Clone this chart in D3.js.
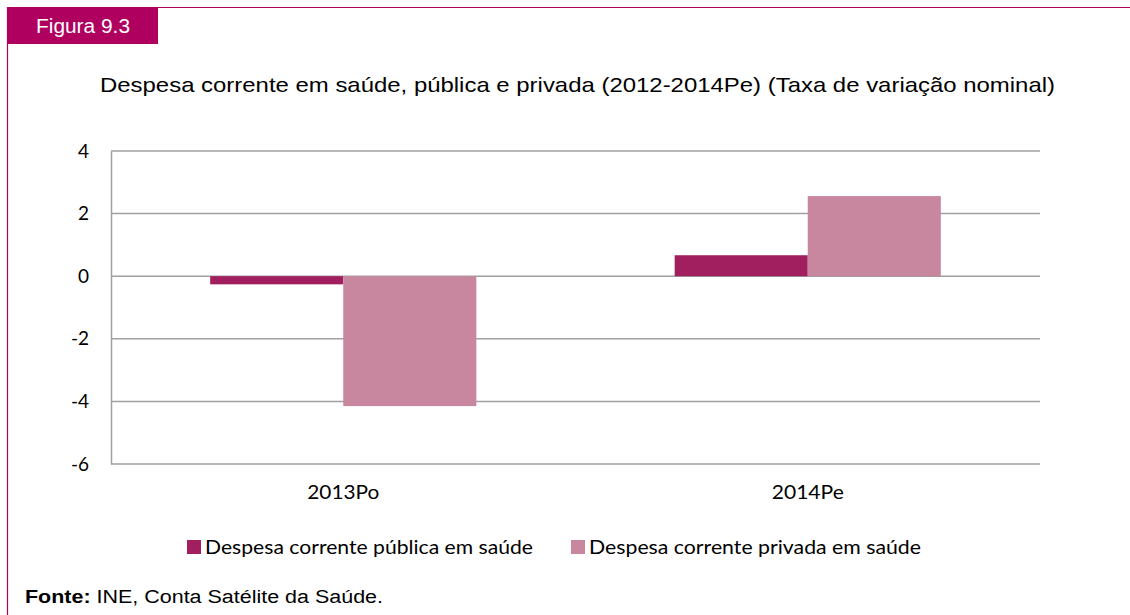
<!DOCTYPE html>
<html>
<head>
<meta charset="utf-8">
<script src="https://cdn.jsdelivr.net/npm/d3@7"></script>
<style>
  body { margin: 0; background: #fff; }
  svg { display: block; }
</style>
</head>
<body>
<div id="chart-area"></div>
<script>
// data
var categories = ["2013Po", "2014Pe"];
var seriesNames = ["Despesa corrente pública em saúde", "Despesa corrente privada em saúde"];
var publica = [-0.26, 0.67];
var privada = [-4.15, 2.56];
var yTicks = [-6, -4, -2, 0, 2, 4];

var colors = ["#A21F5F", "#C8879F"];
var frameColor = "#B0005F";
var arial = "'Liberation Sans', Arial, sans-serif";
var calibri = "Lato, 'Open Sans', sans-serif";

var W = 1130, H = 615;
var margin = { left: 111, right: 90, top: 151, bottom: 151 };
var width = W - margin.left - margin.right;
var height = H - margin.top - margin.bottom;

var svg = d3.select("#chart-area")
    .append("svg")
    .attr("width", W)
    .attr("height", H);

// frame + badge
svg.append("line")
    .attr("x1", 7).attr("x2", W).attr("y1", 7.5).attr("y2", 7.5)
    .attr("stroke", frameColor).attr("stroke-width", 1.2);
svg.append("line")
    .attr("x1", 7.5).attr("x2", 7.5).attr("y1", 7).attr("y2", H)
    .attr("stroke", frameColor).attr("stroke-width", 1.2);
svg.append("rect")
    .attr("x", 7).attr("y", 7).attr("width", 151).attr("height", 37)
    .attr("fill", frameColor);
svg.append("text")
    .attr("x", 36).attr("y", 33)
    .attr("fill", "#fff")
    .attr("font-family", arial)
    .attr("font-size", "20px")
    .attr("textLength", 94)
    .attr("lengthAdjust", "spacingAndGlyphs")
    .text("Figura 9.3");

// title
svg.append("text")
    .attr("x", 100).attr("y", 92)
    .attr("font-family", arial)
    .attr("font-size", "21px")
    .attr("fill", "#000")
    .attr("textLength", 955)
    .attr("lengthAdjust", "spacingAndGlyphs")
    .text("Despesa corrente em saúde, pública e privada (2012-2014Pe) (Taxa de variação nominal)");

var g = svg.append("g")
    .attr("transform", "translate(" + margin.left + "," + margin.top + ")");

var x0 = d3.scaleBand()
    .domain(categories)
    .range([0, width])
    .paddingInner(0.427)
    .paddingOuter(0.2135);

var x1 = d3.scaleBand()
    .domain([0, 1])
    .range([0, x0.bandwidth()]);

var y = d3.scaleLinear()
    .domain([-6, 4])
    .range([height, 0]);

// gridlines
g.append("g")
    .selectAll("line")
    .data(yTicks)
    .enter().append("line")
    .attr("x1", 0).attr("x2", width)
    .attr("y1", function (d) { return y(d); })
    .attr("y2", function (d) { return y(d); })
    .attr("stroke", "#a0a0a0")
    .attr("stroke-width", 1.5);

// y axis (plain hyphen for negatives, like the original)
var yAxisCall = d3.axisLeft(y)
    .tickValues(yTicks)
    .tickSize(0)
    .tickPadding(22)
    .tickFormat(function (d) { return String(d); });
var yAxis = g.append("g").call(yAxisCall);
yAxis.select(".domain").attr("stroke", "#a0a0a0").attr("stroke-width", 1.5);
yAxis.selectAll("text")
    .attr("font-family", calibri)
    .attr("font-size", "19px")
    .attr("fill", "#000");

// bars
var rows = categories.map(function (c, i) { return { cat: c, vals: [publica[i], privada[i]] }; });

var groups = g.selectAll(".grp")
    .data(rows)
    .enter().append("g")
    .attr("class", "grp")
    .attr("transform", function (d) { return "translate(" + x0(d.cat) + ",0)"; });

groups.selectAll("rect")
    .data(function (d) { return d.vals.map(function (v, k) { return { v: v, k: k }; }); })
    .enter().append("rect")
    .attr("x", function (d) { return x1(d.k); })
    .attr("width", x1.bandwidth())
    .attr("y", function (d) { return y(Math.max(0, d.v)); })
    .attr("height", function (d) { return Math.abs(y(d.v) - y(0)); })
    .attr("fill", function (d) { return colors[d.k]; });

// x axis labels
var xAxisCall = d3.axisBottom(x0).tickSize(0).tickPadding(22);
var xAxis = g.append("g")
    .attr("transform", "translate(0," + height + ")")
    .call(xAxisCall);
xAxis.select(".domain").remove();
xAxis.selectAll("text")
    .attr("font-family", calibri)
    .attr("font-size", "19px")
    .attr("fill", "#000")
    .attr("textLength", 72)
    .attr("lengthAdjust", "spacingAndGlyphs");

// legend
var legendX = [187, 571];
var legendW = [328, 332];
var legend = svg.append("g");
seriesNames.forEach(function (name, i) {
    var row = legend.append("g")
        .attr("transform", "translate(" + legendX[i] + ",540)");
    row.append("rect")
        .attr("width", 14).attr("height", 14)
        .attr("fill", colors[i]);
    row.append("text")
        .attr("x", 18).attr("y", 14)
        .attr("font-family", calibri)
        .attr("font-size", "19px")
        .attr("fill", "#000")
        .attr("textLength", legendW[i])
        .attr("lengthAdjust", "spacingAndGlyphs")
        .text(name);
});

// source
var src = svg.append("text")
    .attr("x", 25).attr("y", 603)
    .attr("font-family", arial)
    .attr("font-size", "18px")
    .attr("fill", "#000")
    .attr("textLength", 358)
    .attr("lengthAdjust", "spacingAndGlyphs");
src.append("tspan").attr("font-weight", "bold").text("Fonte:");
src.append("tspan").text(" INE, Conta Satélite da Saúde.");
</script>
</body>
</html>
